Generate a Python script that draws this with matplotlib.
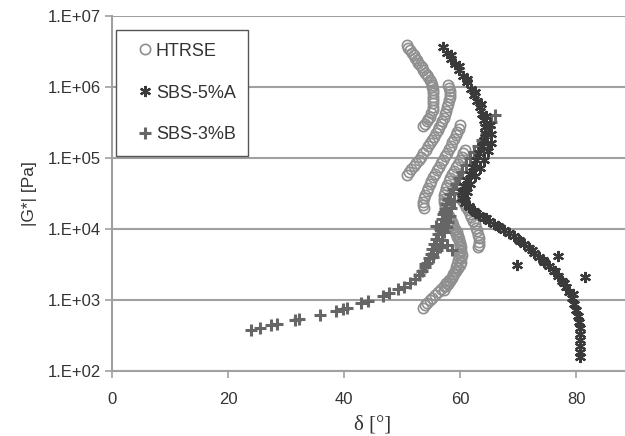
import numpy as np
import matplotlib
matplotlib.use("Agg")
import matplotlib.pyplot as plt
from matplotlib.ticker import FixedLocator, FuncFormatter, NullLocator

# HTRSE: several overlapping isotherm strands (delta in deg, |G*| in Pa)
htrse_delta = [
    # strand 1
    50.8, 51.1, 51.4, 51.7, 52.0, 52.25, 52.5, 52.8, 53.1, 53.4, 53.7, 54.0, 54.3, 54.55, 54.8, 54.95,
    55.1, 55.25, 55.4, 55.4, 55.4, 55.4, 55.4, 55.35, 55.3, 55.05, 54.8, 54.55, 54.3, 53.95, 53.6,
    # strand 2
    57.9, 58.1, 58.3, 58.3, 58.3, 58.1, 57.9, 57.75, 57.6, 57.4, 57.2, 56.95, 56.7, 56.45, 56.2,
    55.85, 55.5, 55.15, 54.8, 54.45, 54.1, 53.7, 53.3, 52.85, 52.4, 52.0, 51.6, 51.25, 50.9,
    # strand 3
    60.0, 59.75, 59.5, 59.25, 59.0, 58.7, 58.4, 58.1, 57.8, 57.45, 57.1, 56.75, 56.4, 56.05, 55.7,
    55.35, 55.0, 54.75, 54.5, 54.25, 54.0, 53.8, 53.6, 53.7, 53.8,
    # strand 4
    60.9, 60.6, 60.3, 60.0, 59.7, 59.35, 59.0, 58.65, 58.3, 58.05, 57.8, 57.6, 57.4, 57.3, 57.2,
    57.3, 57.4, 57.6, 57.8, 58.05, 58.3, 58.55, 58.8, 59.05, 59.3, 59.55, 59.8, 60.0, 60.2, 60.25,
    60.3, 60.25, 60.2, 59.95, 59.7, 59.35, 59.0, 58.55, 58.1, 57.65, 57.2, 56.7, 56.2, 55.7, 55.2,
    54.75, 54.3, 53.95, 53.6,
    # strand 5
    60.3, 60.65, 61.0, 61.35, 61.7, 61.95, 62.2, 62.5, 62.8, 62.95, 63.1, 63.2, 63.3, 63.2, 63.1,
    # strand 6
    58.6, 58.85, 59.1, 59.4, 59.7, 59.85, 60.0, 60.0, 60.0, 59.9, 59.8, 59.65, 59.5, 59.3, 59.1,
    58.85, 58.6, 58.25, 57.9, 57.55, 57.2,
]
htrse_g = [
    3.9e6, 3.6e6, 3.3e6, 3.05e6, 2.8e6, 2.6e6, 2.4e6, 2.2e6, 2.05e6, 1.89e6, 1.74e6, 1.6e6, 1.48e6, 1.37e6, 1.26e6, 1.16e6,
    1.07e6, 9.9e5, 9.1e5, 8.2e5, 7.3e5, 6.6e5, 5.9e5, 5.3e5, 4.8e5, 4.3e5, 3.8e5, 3.5e5, 3.3e5, 3.0e5, 2.8e5,
    1.07e6, 9.7e5, 8.8e5, 8.0e5, 7.3e5, 6.5e5, 5.8e5, 5.2e5, 4.6e5, 4.1e5, 3.7e5, 3.3e5, 3.0e5, 2.75e5, 2.5e5,
    2.25e5, 2.0e5, 1.8e5, 1.64e5, 1.46e5, 1.30e5, 1.16e5, 1.04e5, 9.5e4, 8.6e4, 7.8e4, 7.0e4, 6.4e4, 5.8e4,
    2.93e5, 2.6e5, 2.33e5, 2.08e5, 1.86e5, 1.66e5, 1.49e5, 1.32e5, 1.18e5, 1.05e5, 9.4e4, 8.4e4, 7.5e4, 6.7e4, 6.0e4,
    5.4e4, 4.8e4, 4.3e4, 3.8e4, 3.4e4, 3.0e4, 2.7e4, 2.42e4, 2.2e4, 2.0e4,
    1.30e5, 1.16e5, 1.04e5, 9.3e4, 8.3e4, 7.4e4, 6.6e4, 5.9e4, 5.3e4, 4.7e4, 4.2e4, 3.75e4, 3.35e4, 3.0e4, 2.67e4,
    2.38e4, 2.13e4, 1.9e4, 1.69e4, 1.51e4, 1.35e4, 1.2e4, 1.08e4, 9.6e3, 8.6e3, 7.6e3, 6.8e3, 6.1e3, 5.5e3, 4.9e3,
    4.35e3, 3.9e3, 3.47e3, 3.15e3, 2.86e3, 2.6e3, 2.35e3, 2.13e3, 1.94e3, 1.76e3, 1.60e3, 1.45e3, 1.31e3, 1.19e3, 1.08e3,
    1.0e3, 9.2e2, 8.5e2, 7.8e2,
    2.58e4, 2.3e4, 2.06e4, 1.84e4, 1.64e4, 1.47e4, 1.31e4, 1.17e4, 1.04e4, 9.3e3, 8.3e3, 7.4e3, 6.6e3, 6.0e3, 5.5e3,
    1.27e4, 1.13e4, 1.01e4, 9.0e3, 8.05e3, 7.2e3, 6.4e3, 5.7e3, 5.1e3, 4.55e3, 4.07e3, 3.6e3, 3.25e3, 2.9e3, 2.59e3,
    2.3e3, 2.07e3, 1.88e3, 1.70e3, 1.55e3, 1.40e3,
]

sbs5_delta = [
    57.1, 57.8, 58.5, 59.1, 59.8, 60.5, 61.2, 61.9, 62.4, 62.9, 63.5, 63.8, 64.1, 64.3, 64.3,
    64.1, 63.8, 63.3, 62.8, 62.2, 61.7, 61.2, 60.7, 60.3, 60.3, 60.9, 61.6, 62.4, 63.3, 64.1,
    65.0, 65.9, 66.7, 67.6, 68.5, 69.3, 70.2, 71.0, 71.9, 72.8, 73.6, 74.5, 75.3, 76.2, 76.9,
    77.6, 78.3, 78.8, 79.3, 79.7, 80.0, 80.3, 80.5, 80.7, 80.7, 80.7, 80.7, 80.7, 80.7,
    # second, overlapping sweep
    58.5, 59.9, 61.2, 62.6, 63.6, 64.5, 65.1, 65.4, 65.3, 64.9, 64.2, 63.4, 62.6, 61.8, 61.2,
    60.9, 61.5, 62.8, 64.5, 66.5, 68.4, 70.4, 72.4, 74.3, 76.3, 78.0, 79.4,
    # stray points
    69.8, 76.9, 81.6,
]
sbs5_g = [
    3.66e6, 3.02e6, 2.48e6, 2.11e6, 1.74e6, 1.43e6, 1.18e6, 9.4e5, 7.7e5, 6.4e5, 5.25e5, 4.19e5, 3.45e5, 2.75e5, 2.26e5,
    1.80e5, 1.49e5, 1.18e5, 9.4e4, 7.5e4, 6.0e4, 4.93e4, 4.06e4, 3.35e4, 2.75e4, 2.34e4, 2.06e4, 1.81e4, 1.59e4, 1.44e4,
    1.31e4, 1.19e4, 1.08e4, 9.8e3, 8.9e3, 8.05e3, 7.1e3, 6.2e3, 5.45e3, 4.64e3, 4.07e3, 3.47e3, 3.05e3, 2.59e3, 2.20e3,
    1.87e3, 1.54e3, 1.31e3, 1.08e3, 8.9e2, 7.3e2, 6.0e2, 4.97e2, 4.09e2, 3.37e2, 2.77e2, 2.28e2, 1.88e2, 1.60e2,
    2.8e6, 1.95e6, 1.3e6, 8.6e5, 5.8e5, 3.9e5, 2.9e5, 2.2e5, 1.65e5, 1.25e5, 9.5e4, 7.3e4, 5.6e4, 4.3e4, 3.3e4,
    2.6e4, 2.1e4, 1.7e4, 1.45e4, 1.1e4, 8.7e3, 6.8e3, 5.1e3, 3.7e3, 2.6e3, 1.75e3, 1.2e3,
    3.15e3, 4.2e3, 2.13e3,
]

sbs3_delta = [
    24.0, 25.5, 27.4, 28.5, 31.6, 32.2, 35.9, 38.6, 39.8, 40.5, 42.9, 44.1, 46.7, 47.8, 49.3,
    50.3, 51.4, 52.2, 52.9, 53.5, 54.0, 54.3, 54.7, 55.0, 55.2, 55.5, 55.9, 56.2, 56.6, 56.7,
    56.9, 57.1, 57.4, 57.6, 57.9, 58.3, 58.8, 59.3, 59.8, 60.3, 61.0, 61.7, 62.4, 63.1, 63.8,
    64.5, 65.0, 65.3, 66.0,
    56.6, 57.8, 58.6, 55.9, 57.9, 57.2, 54.0, 55.3, 56.0, 56.9, 57.2, 57.8, 58.2, 58.5, 59.0, 59.8,
]
sbs3_g = [
    3.72e2, 4.09e2, 4.51e2, 4.66e2, 5.30e2, 5.47e2, 6.24e2, 7.10e2, 7.57e2, 7.82e2, 9.2e2, 9.8e2, 1.15e3, 1.27e3, 1.45e3,
    1.54e3, 1.76e3, 2.00e3, 2.28e3, 2.59e3, 2.95e3, 3.36e3, 3.95e3, 4.50e3, 5.28e3, 6.21e3, 7.31e3, 8.59e3, 1.01e4, 1.19e4,
    1.40e4, 1.64e4, 1.93e4, 2.27e4, 2.67e4, 3.14e4, 3.69e4, 4.34e4, 5.27e4, 6.40e4, 8.0e4, 1.01e5, 1.22e5, 1.49e5, 1.80e5,
    2.19e5, 2.75e5, 3.23e5, 4.06e5,
    5.64e3, 6.0e3, 5.1e3, 1.11e4, 1.27e4, 1.75e4, 3.2e3, 4.0e3, 5.0e3, 7.0e3, 9.0e3, 1.05e4, 1.5e4, 2.0e4, 2.5e4, 3.2e4,
]

x_ticks = [0, 20, 40, 60, 80]
y_ticks = [1e2, 1e3, 1e4, 1e5, 1e6, 1e7]

GRID = "#a0a0a0"
TEXT = "#333333"


def excel_sci(v, pos):
    return "1.E+%02d" % int(round(np.log10(v)))


def main():
    plt.rcParams["font.family"] = ["Liberation Sans", "DejaVu Sans"]
    fig = plt.figure(figsize=(6.25, 4.36), dpi=100)
    ax = fig.add_axes([0.1792, 0.1491, 0.8352, 0.8142])

    ax.plot(sbs3_delta, sbs3_g, linestyle="none", marker="+", markersize=8,
            markeredgewidth=2.2, color="#666666", label="SBS-3%B", zorder=3)
    ax.plot(htrse_delta, htrse_g, linestyle="none", marker="o", markersize=7.4,
            markerfacecolor="none", markeredgewidth=1.2, markeredgecolor="#8f8f8f",
            label="HTRSE", zorder=2)
    ax.plot(sbs5_delta, sbs5_g, linestyle="none", marker=(6, 2, 0), markersize=8,
            markeredgewidth=1.6, color="#3a3a3a", label="SBS-5%A", zorder=4)

    ax.set_yscale("log")
    ax.set_xlim(0, 90)
    ax.set_ylim(1e2, 1e7)
    ax.xaxis.set_major_locator(FixedLocator(x_ticks))
    ax.yaxis.set_major_locator(FixedLocator(y_ticks))
    ax.yaxis.set_minor_locator(NullLocator())
    ax.yaxis.set_major_formatter(FuncFormatter(excel_sci))

    ax.yaxis.grid(True, color=GRID, linewidth=1.5)
    ax.set_axisbelow(True)
    for side in ("top", "right"):
        ax.spines[side].set_visible(False)
    for side in ("left", "bottom"):
        ax.spines[side].set_color(GRID)
        ax.spines[side].set_linewidth(1.5)
    ax.tick_params(axis="both", colors=GRID, length=5, width=1.2,
                   labelcolor=TEXT, labelsize=12)
    ax.tick_params(axis="y", pad=3)
    ax.tick_params(axis="x", pad=10)

    ax.set_ylabel("|G*| [Pa]", fontsize=12.5, color=TEXT, labelpad=8)
    ax.set_xlabel("δ [°]", fontsize=15, color=TEXT, family=["Liberation Serif", "DejaVu Serif"],
                  labelpad=6)

    handles, labels = ax.get_legend_handles_labels()
    order = [labels.index(n) for n in ("HTRSE", "SBS-5%A", "SBS-3%B")]
    leg = ax.legend([handles[i] for i in order], [labels[i] for i in order],
                    loc="upper left", bbox_to_anchor=(0.0077, 0.9606), borderaxespad=0,
                    numpoints=1, fontsize=13, labelspacing=1.38, handlelength=1.8,
                    handletextpad=-0.3, borderpad=0.7, fancybox=False, framealpha=1,
                    edgecolor="#555555")
    leg.get_frame().set_linewidth(1.0)
    for t in leg.get_texts():
        t.set_color(TEXT)

    fig.savefig("out.png", dpi=100)


if __name__ == "__main__":
    main()
